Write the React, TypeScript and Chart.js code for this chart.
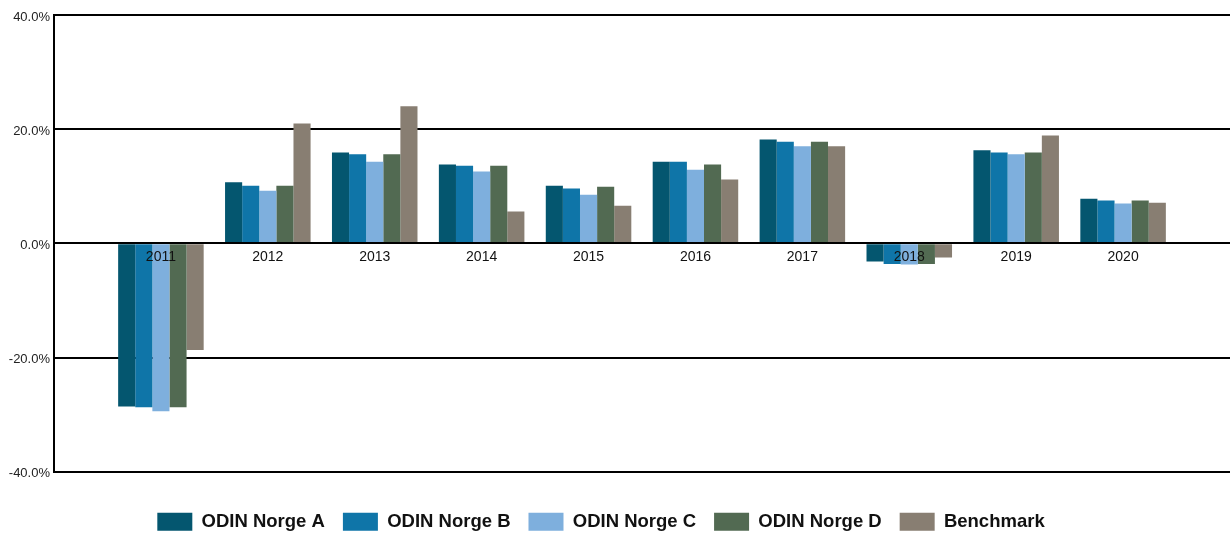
import React, { useEffect, useRef } from "react";
import { Chart, registerables } from "chart.js";

Chart.register(...registerables);

const years = ["2011", "2012", "2013", "2014", "2015", "2016", "2017", "2018", "2019", "2020"];
const odinA = [-28.6, 10.7, 15.9, 13.8, 10.1, 14.3, 18.2, -3.2, 16.3, 7.8];
const odinB = [-28.7, 10.1, 15.6, 13.6, 9.6, 14.3, 17.8, -3.6, 15.9, 7.5];
const odinC = [-29.4, 9.2, 14.3, 12.6, 8.5, 12.9, 17.0, -3.7, 15.6, 7.0];
const odinD = [-28.7, 10.1, 15.6, 13.6, 9.9, 13.8, 17.8, -3.6, 15.9, 7.5];
const benchmark = [-18.7, 21.0, 24.0, 5.6, 6.6, 11.2, 17.0, -2.5, 18.9, 7.1];
const seriesNames = ["ODIN Norge A", "ODIN Norge B", "ODIN Norge C", "ODIN Norge D", "Benchmark"];
const seriesColors = ["#04566F", "#0F75A8", "#7EAFDD", "#526A52", "#887E72"];
const yTicks = [-40, -20, 0, 20, 40];

export default function App() {
  const ref = useRef<HTMLCanvasElement | null>(null);
  useEffect(() => {
    if (!ref.current) return;
    const labels = ["", ...years, ""];
    const seriesValues = [odinA, odinB, odinC, odinD, benchmark];
    const chart = new Chart(ref.current, {
      type: "bar",
      data: {
        labels,
        datasets: seriesValues.map((vals, i) => ({
          label: seriesNames[i],
          data: [null, ...vals, null],
          backgroundColor: seriesColors[i],
          borderWidth: 0,
          categoryPercentage: 0.8,
          barPercentage: 1.0,
        })),
      },
      options: {
        responsive: false,
        animation: false,
        layout: { padding: { top: 15, bottom: -7, left: -33, right: 0 } },
        plugins: {
          tooltip: { enabled: false },
          legend: {
            position: "bottom",
            title: { display: true, text: "", padding: 0, font: { size: 19, lineHeight: 1.2 } },
            labels: {
              boxWidth: 35,
              boxHeight: 18,
              padding: 18,
              color: "#111",
              font: { family: "'Liberation Sans', Arial, sans-serif", size: 18.5, weight: "bold" },
            },
          },
        },
        scales: {
          x: {
            type: "category",
            offset: false,
            position: { y: 0 },
            grid: { display: false, drawTicks: false },
            border: { display: true, color: "#000", width: 2, z: 1 },
            ticks: {
              z: 1,
              autoSkip: false,
              maxRotation: 0,
              padding: 5,
              color: "#111",
              font: { family: "'Liberation Sans', Arial, sans-serif", size: 14 },
            },
          },
          y: {
            min: -40,
            max: 40,
            afterFit: (s: any) => { s.width = 87; },
            afterBuildTicks: (s: any) => { s.ticks = yTicks.map((v) => ({ value: v })); },
            grid: { color: "#000", lineWidth: 2, drawTicks: false },
            border: { display: true, color: "#000", width: 2 },
            ticks: {
              padding: 4,
              labelOffset: 2,
              color: "#222",
              font: { family: "'Liberation Sans', Arial, sans-serif", size: 13 },
              callback: (v: any) => Number(v).toFixed(1) + "%",
            },
          },
        },
      },
    } as any);
    return () => chart.destroy();
  }, []);
  return (
    <div style={{ position: "fixed", left: 0, top: 0, width: 1230, height: 534, overflow: "hidden", background: "#fff" }}>
      <canvas ref={ref} width={1235} height={534} style={{ display: "block" }} />
    </div>
  );
}
